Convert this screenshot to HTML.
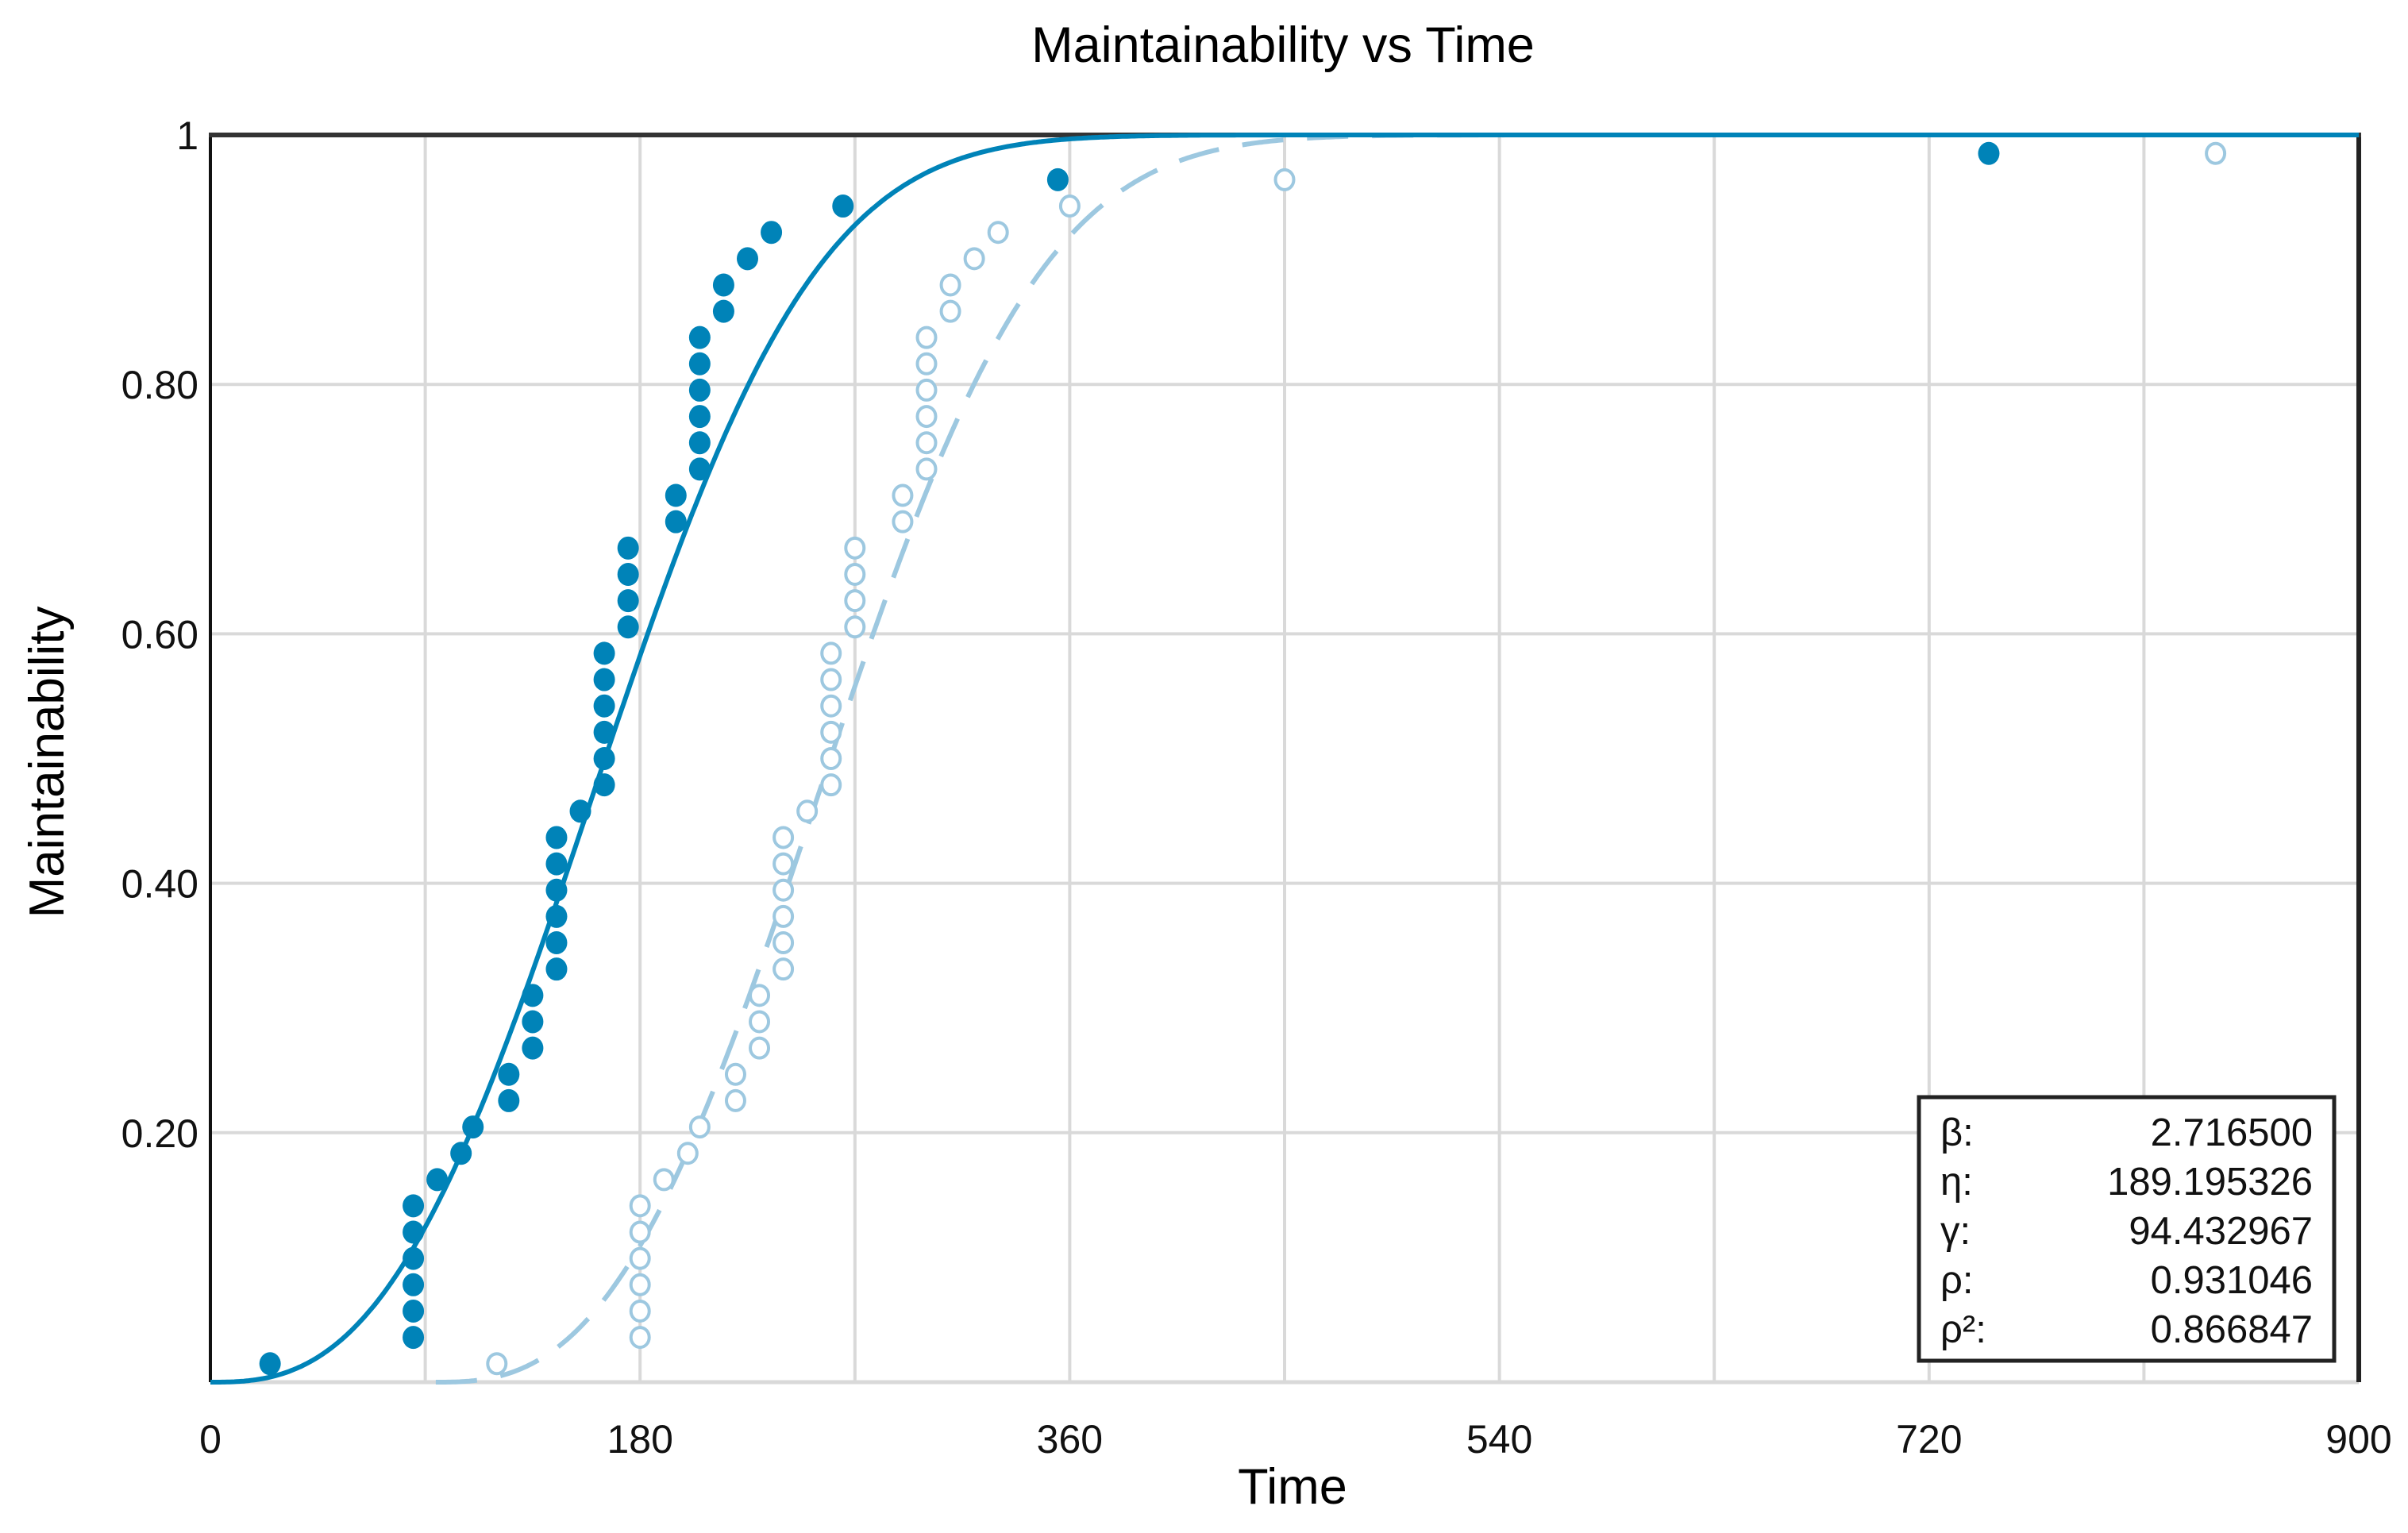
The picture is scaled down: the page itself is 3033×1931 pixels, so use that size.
<!DOCTYPE html>
<html><head><meta charset="utf-8"><style>
html,body{margin:0;padding:0;background:#fff;}
svg{display:block;font-family:"Liberation Sans",Arial,sans-serif;}
</style></head><body>
<svg id="chart" width="3033" height="1931" viewBox="0 0 3033 1931">
<text x="1616" y="78" font-size="63" text-anchor="middle" fill="#000">Maintainability vs Time</text>
<text x="1628" y="1894" font-size="63" text-anchor="middle" fill="#000">Time</text>
<text transform="translate(80,960) rotate(-90)" font-size="62" text-anchor="middle" fill="#000">Maintainability</text>
<g id="grid"></g>
<g id="ticks"></g>
<g id="frame"></g>
<g id="series"></g>
<g>
<rect x="2417" y="1382" width="523" height="332" fill="#fff" stroke="#222" stroke-width="5"/>
<g font-size="49" fill="#111" id="params"></g>
</g>
</svg>
<script>
const xTicks=[0,180,360,540,720,900];
const xGrid=[90,180,270,360,450,540,630,720,810];
const yTicks=[0.2,0.4,0.6,0.8,1];
const yTickLabels=["0.20","0.40","0.60","0.80","1"];
const filledTimes=[25,85,85,85,85,85,85,95,105,110,125,125,135,135,135,145,145,145,145,145,145,155,165,165,165,165,165,165,175,175,175,175,195,195,205,205,205,205,205,205,215,215,225,235,265,355,745];
const openTimes=[120,180,180,180,180,180,180,190,200,205,220,220,230,230,230,240,240,240,240,240,240,250,260,260,260,260,260,260,270,270,270,270,290,290,300,300,300,300,300,300,310,310,320,330,360,450,840];
const maintValues=[0.0148,0.0359,0.0570,0.0781,0.0992,0.1203,0.1414,0.1624,0.1835,0.2046,0.2257,0.2468,0.2679,0.2890,0.3101,0.3312,0.3523,0.3734,0.3945,0.4156,0.4367,0.4578,0.4789,0.5,0.5211,0.5422,0.5633,0.5844,0.6055,0.6266,0.6477,0.6688,0.6899,0.7110,0.7321,0.7532,0.7743,0.7954,0.8165,0.8376,0.8586,0.8797,0.9008,0.9219,0.9430,0.9641,0.9852];
const paramLabels=["β:","η:","γ:","ρ:","ρ²:"];
const paramValues=["2.716500","189.195326","94.432967","0.931046","0.866847"];
const beta=2.7165, eta=189.195326, gamma=94.432967;

const L=265,R=2971,T=170,B=1741;
const sx=v=>L+(v/900)*(R-L);
const sy=v=>B-v*(B-T);
const NS="http://www.w3.org/2000/svg";
function mk(tag,attrs,parent){const e=document.createElementNS(NS,tag);for(const k in attrs)e.setAttribute(k,attrs[k]);parent.appendChild(e);return e;}
const grid=document.getElementById('grid'),ticks=document.getElementById('ticks'),frame=document.getElementById('frame'),series=document.getElementById('series');
xGrid.forEach(v=>{const l=mk('line',{x1:sx(v),x2:sx(v),y1:T,y2:B,stroke:'#d9d9d9','stroke-width':4},grid);

});
yTicks.forEach(v=>{const l=mk('line',{x1:L,x2:R,y1:sy(v),y2:sy(v),stroke:'#d9d9d9','stroke-width':4},grid);

});
const bl=mk('line',{x1:L,x2:R,y1:B,y2:B,stroke:'#d9d9d9','stroke-width':5},grid);


xTicks.forEach(v=>{const t=mk('text',{x:sx(v),y:1830,'font-size':50,'text-anchor':'middle',fill:'#111'},ticks);t.textContent=String(v);

});
yTicks.forEach((v,i)=>{const t=mk('text',{x:250,y:sy(v)+18,'font-size':50,'text-anchor':'end',fill:'#111'},ticks);t.textContent=yTickLabels[i];

});
const fl=mk('line',{x1:L,x2:L,y1:T-3,y2:B,stroke:'#111','stroke-width':4},frame);


const fr=mk('line',{x1:R,x2:R,y1:T-3,y2:B,stroke:'#222','stroke-width':6},frame);


const ft=mk('line',{x1:L-2,x2:R+3,y1:T,y2:T,stroke:'#333','stroke-width':6},frame);



function curve(shift){let d='';let first=true;for(let t=shift;t<=900;t+=1){const z=Math.max(0,t-shift);const F=1-Math.exp(-Math.pow(z/eta,beta));d+=(first?'M':'L')+sx(t).toFixed(1)+','+sy(F).toFixed(1);first=false;}return d;}
const dc=mk('path',{d:curve(gamma),fill:'none',stroke:'#9dc8e0','stroke-width':6,'stroke-dasharray':'52 30'},series);


const sc=mk('path',{d:curve(0),fill:'none',stroke:'#0083b8','stroke-width':6},series);


openTimes.forEach((t,i)=>{const c=mk('ellipse',{cx:sx(t),cy:sy(maintValues[i]),rx:11.5,ry:12.5,fill:'#fff',stroke:'#9dc8e0','stroke-width':4},series);

});
filledTimes.forEach((t,i)=>{const c=mk('ellipse',{cx:sx(t),cy:sy(maintValues[i]),rx:13.5,ry:14.5,fill:'#0083b8'},series);

});
const pg=document.getElementById('params');
paramLabels.forEach((s,i)=>{const y=1443+i*62;
const a=mk('text',{x:2444,y:y},pg);a.textContent=s;


const b=mk('text',{x:2913,y:y,'text-anchor':'end'},pg);b.textContent=paramValues[i];

});
</script>
</body></html>
